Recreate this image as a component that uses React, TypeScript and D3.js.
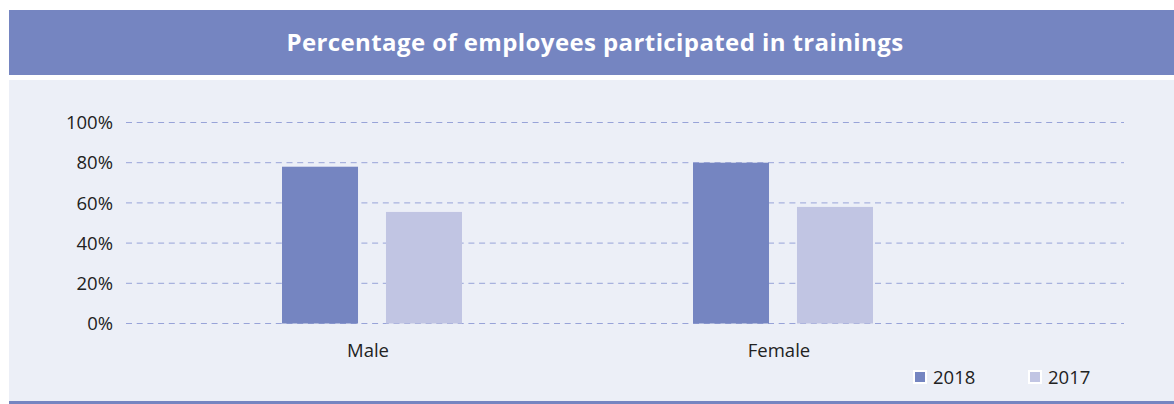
import React from "react";
import * as d3 from "d3";

const title = "Percentage of employees participated in trainings";
const categories = ["Male", "Female"];
const series = ["2018", "2017"];
const values2018 = [78, 80];
const values2017 = [55.5, 58];
const yTicks = [0, 20, 40, 60, 80, 100];
const colors = ["#7585c1", "#c1c5e3"];

export default function App() {
  const W = 1174;
  const H = 404;
  const x = d3.scaleBand<string>().domain(categories).range([166.5, 988.5]).padding(0);
  const inner = d3
    .scaleBand<string>()
    .domain(series)
    .range([115.5, 295.5])
    .paddingInner(0.269)
    .paddingOuter(0);
  const y = d3.scaleLinear().domain([0, 100]).range([323.5, 122.5]);
  const data = [values2018, values2017];
  const font = "'Open Sans', 'Noto Sans', sans-serif";

  return (
    <svg
      width={W}
      height={H}
      style={{ position: "absolute", left: 0, top: 0, display: "block" }}
      fontFamily={font}
    >
      <rect x={0} y={0} width={W} height={H} fill="#ffffff" />
      <rect x={9} y={10} width={W - 9} height={65} fill="#7585c1" />
      <text
        x={595}
        y={42.5}
        dy="0.36em"
        textAnchor="middle"
        fill="#ffffff"
        fontSize={24}
        fontWeight={700}
        letterSpacing={0.4}
      >
        {title}
      </text>
      <rect x={9} y={80} width={W - 9} height={321} fill="#eceff7" />
      <rect x={9} y={401} width={W - 9} height={3} fill="#7585c1" />

      {yTicks.map((t) => (
        <g key={t}>
          <line
            x1={126}
            x2={1124}
            y1={y(t)}
            y2={y(t)}
            stroke="#98a3d8"
            strokeWidth={1}
            strokeDasharray="6 4.7"
          />
          <text
            x={113}
            y={y(t)}
            dy="0.36em"
            textAnchor="end"
            fontSize={18.5}
            fill="#222222"
          >
            {t}%
          </text>
        </g>
      ))}

      {categories.map((c, ci) => (
        <g key={c} transform={`translate(${x(c)},0)`}>
          {series.map((s, si) => (
            <rect
              key={s}
              x={inner(s)}
              y={y(data[si][ci])}
              width={inner.bandwidth()}
              height={y(0) - y(data[si][ci])}
              fill={colors[si]}
            />
          ))}
          <text
            x={x.bandwidth() / 2 - 4}
            y={350}
            dy="0.36em"
            textAnchor="middle"
            fontSize={18.5}
            fill="#222222"
          >
            {c}
          </text>
        </g>
      ))}

      {series.map((s, si) => (
        <g key={s} transform={`translate(${913 + si * 115},377)`}>
          <rect x={0} y={-7} width={14} height={14} fill="#ffffff" />
          <rect x={2} y={-5} width={10} height={10} fill={colors[si]} />
          <text x={20} y={0} dy="0.36em" fontSize={18.5} fill="#222222">
            {s}
          </text>
        </g>
      ))}
    </svg>
  );
}
